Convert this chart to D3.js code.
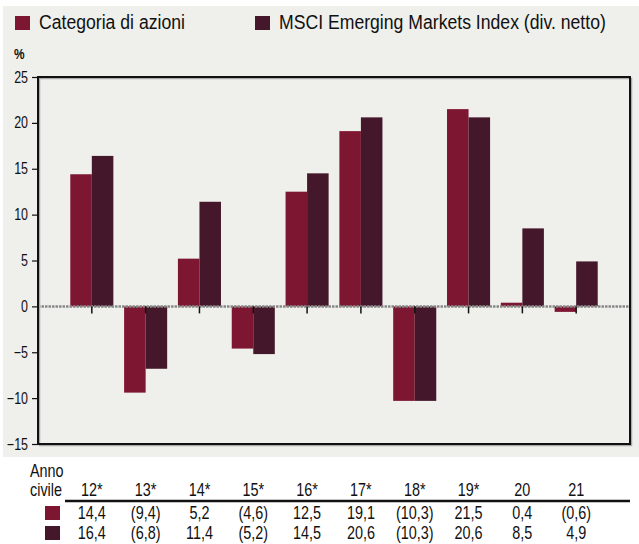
<!DOCTYPE html>
<html>
<head>
<meta charset="utf-8">
<script src="https://cdn.jsdelivr.net/npm/d3@7"></script>
<style>
    body { margin: 0; background: #fff; }
    svg text { font-family: "Liberation Sans", Arial, sans-serif; fill: #111; }
</style>
</head>
<body>
<div id="chart"></div>
<script>
// anni civili (* = dati simulati)
const years = ['12*', '13*', '14*', '15*', '16*', '17*', '18*', '19*', '20', '21'];
const categoria = [14.4, -9.4, 5.2, -4.6, 12.5, 19.1, -10.3, 21.5, 0.4, -0.6];
const msci = [16.4, -6.8, 11.4, -5.2, 14.5, 20.6, -10.3, 20.6, 8.5, 4.9];
const yTicks = [25, 20, 15, 10, 5, 0, -5, -10, -15];

const seriesNames = ['Categoria di azioni', 'MSCI Emerging Markets Index (div. netto)'];
const colors = ['#7c1631', '#45172a'];

const width = 639, height = 544;
const plot = { left: 38, right: 630, top: 77, bottom: 444 };
const narrow = 0.82; // il font originale e' condensato

const svg = d3.select('#chart').append('svg')
    .attr('width', width)
    .attr('height', height);

// testo condensato orizzontalmente
let label = (parent, x, y, str, size, anchor, sx) => {
    return parent.append('text')
        .attr('transform', `translate(${x},${y}) scale(${sx || narrow},1)`)
        .attr('text-anchor', anchor || 'start')
        .style('font-size', size + 'px')
        .text(str);
};

// fondo grigio
svg.append('rect')
    .attr('x', 3).attr('y', 6)
    .attr('width', 636).attr('height', 451)
    .attr('fill', '#efefeb');

// legenda
const legendX = [15, 255];
seriesNames.forEach((name, i) => {
    svg.append('rect')
        .attr('x', legendX[i]).attr('y', 16)
        .attr('width', 15).attr('height', 14)
        .attr('fill', colors[i]);
    label(svg, legendX[i] + 24, 29, name, 21, 'start', 0.84);
});

label(svg, 14, 59, '%', 14, 'start', 0.85).style('font-weight', 'bold');

const x = d3.scaleLinear()
    .domain([0, years.length + 1])
    .range([plot.left, plot.right]);

const y = d3.scaleLinear()
    .domain([-15, 25])
    .range([plot.bottom, plot.top]);

const barW = (x(1) - x(0)) * 0.4;

// asse y
const yAxis = d3.axisLeft(y).tickValues(yTicks).tickSize(6).tickPadding(4);
const gy = svg.append('g')
    .attr('transform', `translate(${plot.left}, 0)`)
    .call(yAxis);
gy.select('.domain').remove();
gy.selectAll('.tick line').attr('stroke', '#111').attr('stroke-width', 1.2);
gy.selectAll('.tick text')
    .attr('x', null)
    .attr('transform', `translate(-10,0) scale(0.78,1)`)
    .style('font-size', '16px')
    .style('font-family', '"Liberation Sans", Arial, sans-serif');

// barre
const bars = svg.append('g').attr('class', 'bars');
[categoria, msci].forEach((values, s) => {
    bars.selectAll('.bar-' + s)
        .data(values)
        .enter()
        .append('rect')
        .attr('class', 'bar-' + s)
        .attr('x', (d, i) => x(i + 1) - barW + s * barW)
        .attr('y', d => y(Math.max(0, d)))
        .attr('width', barW)
        .attr('height', d => Math.abs(y(d) - y(0)))
        .attr('fill', colors[s]);
});

// linea dello zero
svg.append('line')
    .attr('x1', plot.left).attr('x2', plot.right)
    .attr('y1', y(0)).attr('y2', y(0))
    .attr('stroke', '#888')
    .attr('stroke-width', 2.5)
    .attr('stroke-dasharray', '2.5,1');

// tacche categorie
svg.append('g')
    .selectAll('line')
    .data(years)
    .enter()
    .append('line')
    .attr('x1', (d, i) => x(i + 1)).attr('x2', (d, i) => x(i + 1))
    .attr('y1', y(0)).attr('y2', y(0) + 7)
    .attr('stroke', '#111')
    .attr('stroke-width', 1.5);

// cornice
svg.append('rect')
    .attr('x', plot.left + 1.5).attr('y', plot.top + 1.5)
    .attr('width', plot.right - plot.left).attr('height', plot.bottom - plot.top)
    .attr('fill', 'none')
    .attr('stroke', '#aaa')
    .attr('stroke-width', 1.5);
svg.append('rect')
    .attr('x', plot.left).attr('y', plot.top)
    .attr('width', plot.right - plot.left).attr('height', plot.bottom - plot.top)
    .attr('fill', 'none')
    .attr('stroke', '#111')
    .attr('stroke-width', 2);

// tabella
const fmt = v => {
    const s = Math.abs(v).toFixed(1).replace('.', ',');
    return v < 0 ? '(' + s + ')' : s;
};

label(svg, 30, 477, 'Anno', 18, 'start', 0.8);
label(svg, 30, 496, 'civile', 18, 'start', 0.8);

years.forEach((yr, i) => label(svg, x(i + 1), 496, yr, 18, 'middle', 0.8));

svg.append('line')
    .attr('x1', 65).attr('x2', plot.right)
    .attr('y1', 501).attr('y2', 501)
    .attr('stroke', '#111')
    .attr('stroke-width', 2.5);

const rowY = [519, 539];
[categoria, msci].forEach((values, s) => {
    svg.append('rect')
        .attr('x', 45).attr('y', rowY[s] - 13)
        .attr('width', 15).attr('height', 14)
        .attr('fill', colors[s]);
    values.forEach((v, i) => label(svg, x(i + 1), rowY[s], fmt(v), 18, 'middle', 0.8));
});
</script>
</body>
</html>
